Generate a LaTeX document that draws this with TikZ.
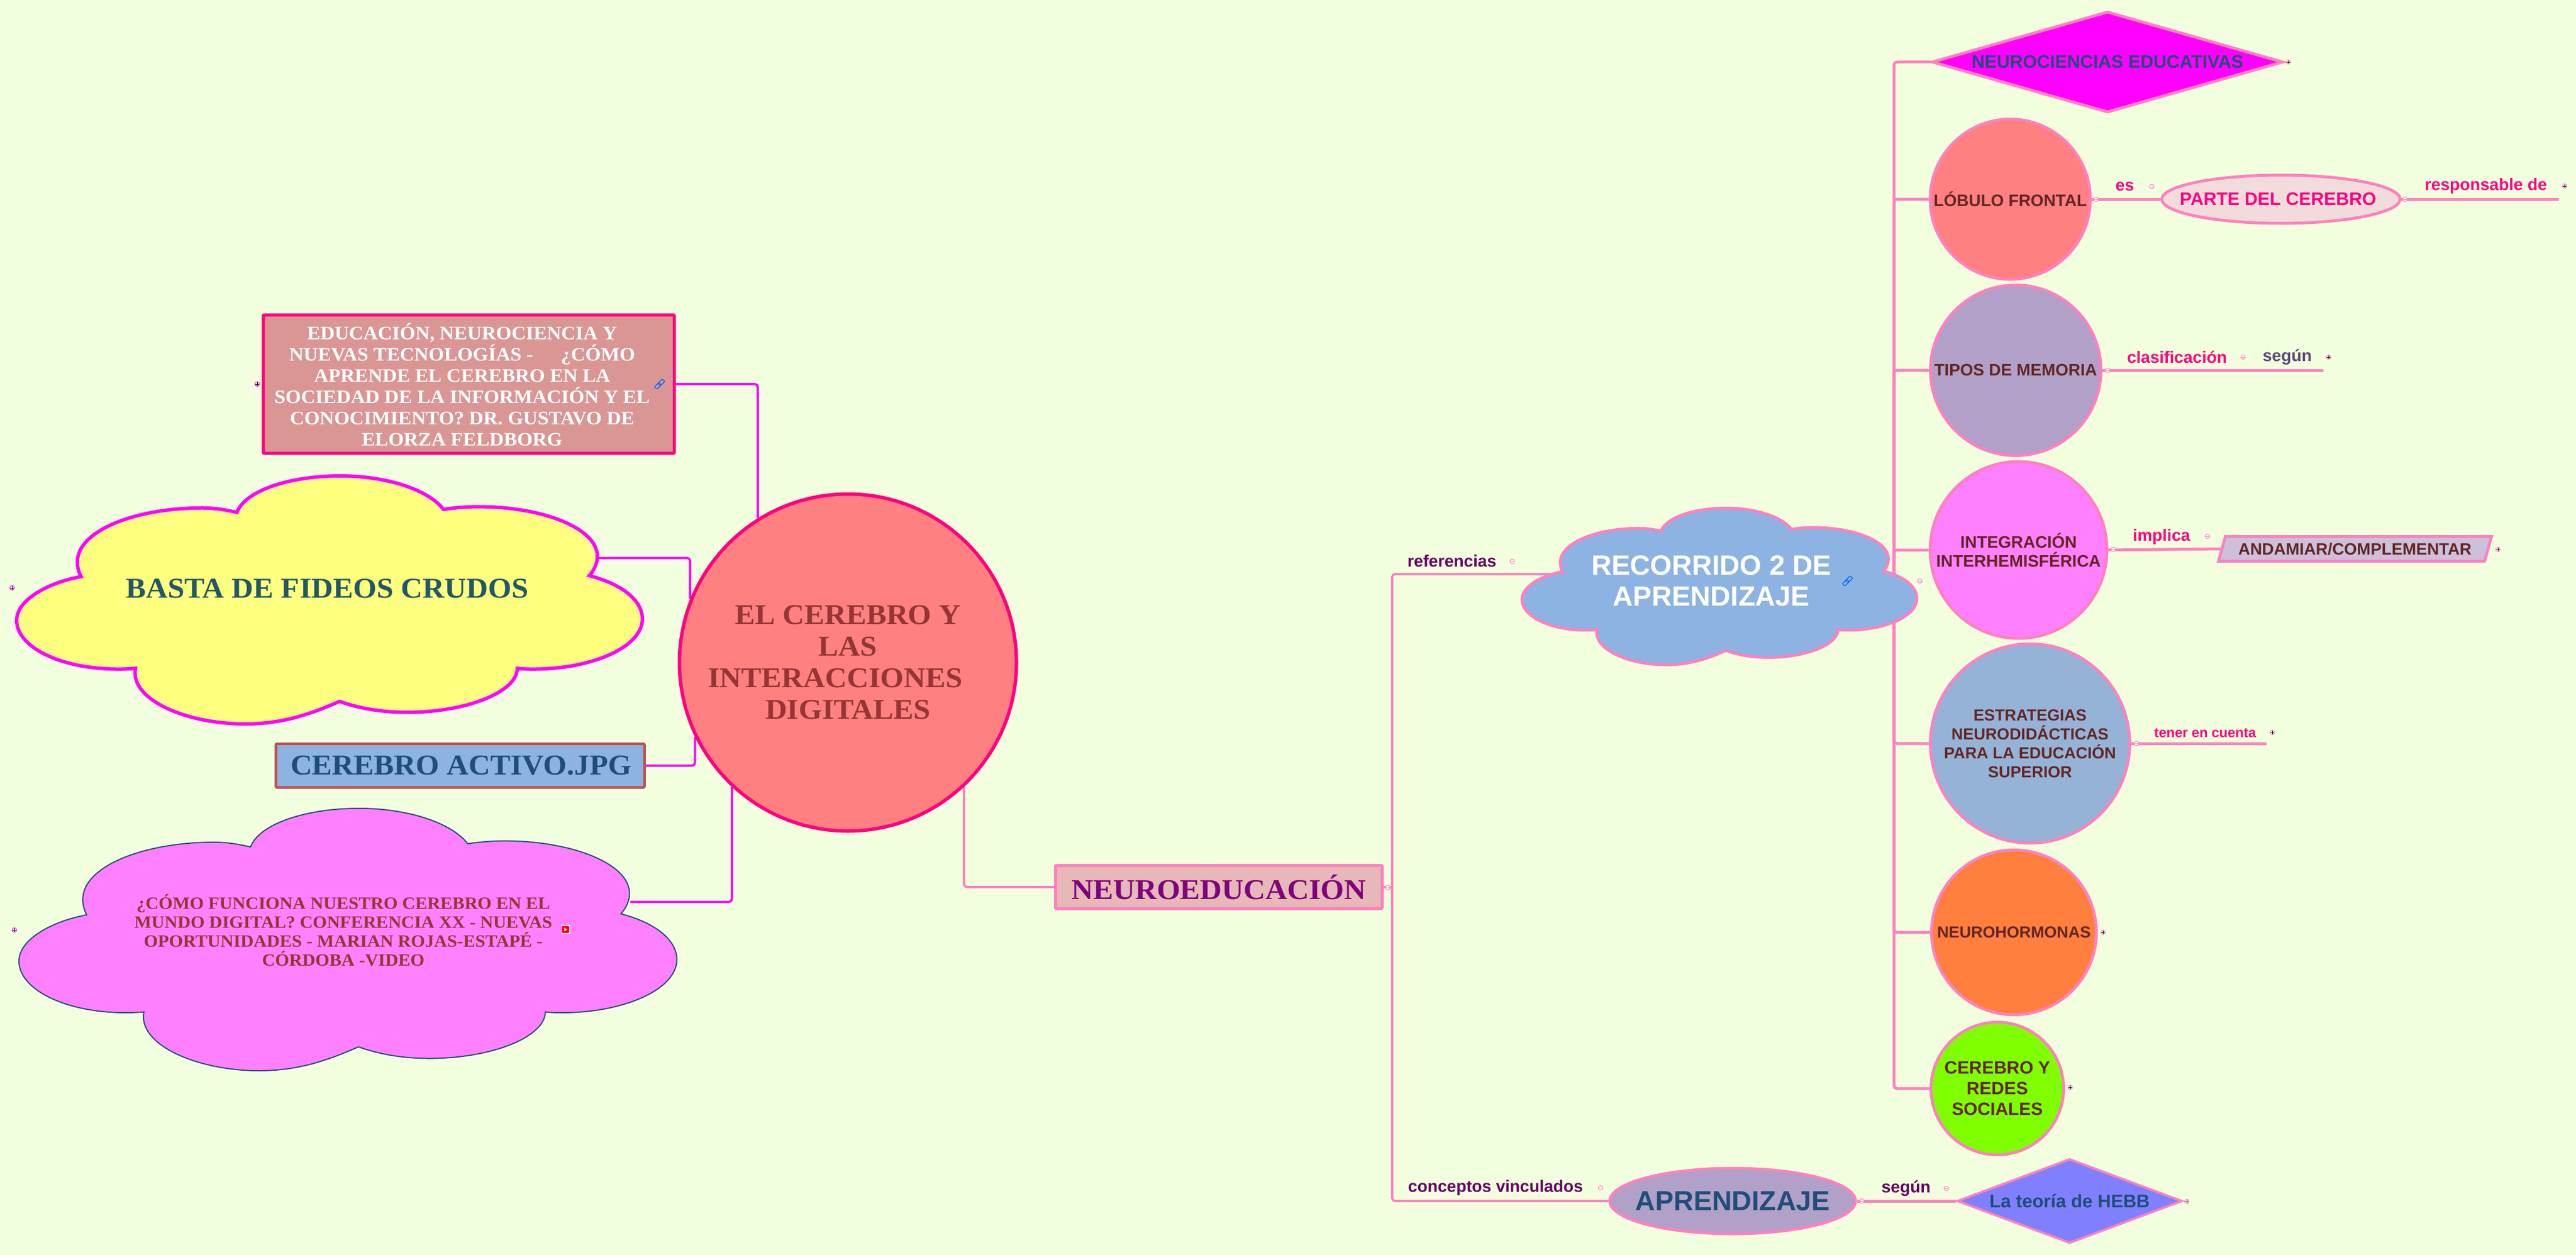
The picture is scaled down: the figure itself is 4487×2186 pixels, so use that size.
\documentclass[tikz,border=0pt]{standalone}
\usepackage{fontspec}
\setmainfont{Liberation Serif}[FakeStretch=1.05]
\setsansfont{Liberation Sans}
\usetikzlibrary{shapes.geometric,backgrounds}
\definecolor{map_bg}{HTML}{F2FFDE}
\definecolor{edge_pink}{HTML}{FF80C0}
\definecolor{edge_magenta}{HTML}{FF00FF}
\definecolor{deep_pink}{HTML}{FF0080}
\definecolor{core_red}{HTML}{FF8080}
\definecolor{core_text}{HTML}{943634}
\definecolor{rose_fill}{HTML}{D99694}
\definecolor{blush_fill}{HTML}{E6B8B7}
\definecolor{pale_fill}{HTML}{F2DCDB}
\definecolor{sky_fill}{HTML}{8DB3E2}
\definecolor{steel_fill}{HTML}{95B3D7}
\definecolor{lilac_fill}{HTML}{B1A0C7}
\definecolor{thistle_fill}{HTML}{CCC0DA}
\definecolor{lemon_fill}{HTML}{FFFF80}
\definecolor{orchid_fill}{HTML}{FF80FF}
\definecolor{orange_fill}{HTML}{FF7F3F}
\definecolor{lime_fill}{HTML}{80FF00}
\definecolor{periwinkle_fill}{HTML}{8080FF}
\definecolor{brick_line}{HTML}{C0504D}
\definecolor{navy_text}{HTML}{1F4E79}
\definecolor{teal_text}{HTML}{215868}
\definecolor{maroon_text}{HTML}{632523}
\definecolor{plum_text}{HTML}{660066}
\definecolor{purple_text}{HTML}{800080}
\definecolor{slate_text}{HTML}{5F497A}
\newcommand{\fpx}[2]{\fontsize{#1}{#2}\selectfont}
% the seven lobes, in a unit box
\newcommand{\cloudshape}[5]{
	\draw[#5, x=#3pt, y=-#4pt, shift={(#1pt,-#2pt)}]
		(.352,.147) .. controls (.365,.06) and (.435,0) .. (.517,0)
		.. controls (.595,0) and (.66,.06) .. (.682,.135)
		.. controls (.70,.128) and (.72,.124) .. (.738,.124)
		.. controls (.84,.124) and (.928,.21) .. (.928,.324)
		.. controls (.928,.352) and (.923,.38) .. (.915,.402)
		.. controls (.973,.44) and (1,.51) .. (1,.576)
		.. controls (1,.69) and (.92,.779) .. (.825,.779)
		.. controls (.815,.779) and (.807,.778) .. (.800,.776)
		.. controls (.80,.87) and (.72,.953) .. (.624,.953)
		.. controls (.58,.953) and (.545,.935) .. (.516,.909)
		.. controls (.47,.96) and (.425,1) .. (.365,1)
		.. controls (.27,1) and (.18,.90) .. (.190,.776)
		.. controls (.18,.778) and (.172,.779) .. (.163,.779)
		.. controls (.07,.779) and (0,.69) .. (0,.582)
		.. controls (0,.50) and (.05,.43) .. (.103,.406)
		.. controls (.099,.387) and (.097,.367) .. (.097,.347)
		.. controls (.097,.22) and (.19,.129) .. (.297,.129)
		.. controls (.316,.129) and (.335,.137) .. (.352,.147) -- cycle;
}
\tikzset{
	serif_text/.style 2 args = {inner sep=0pt, align=center, font=\rmfamily\bfseries\fpx{#1}{#2}},
	ball/.style = {shape=circle, draw=edge_pink, line width=5pt, inner sep=0pt, align=center, text=maroon_text, font=\sffamily\bfseries\fpx{29}{33}},
	oval/.style = {shape=ellipse, draw=edge_pink, line width=5pt, inner sep=0pt},
	gem/.style = {shape=diamond, draw=edge_pink, line width=5pt, inner sep=0pt, text=navy_text},
	tag/.style = {inner sep=0pt, font=\sffamily\bfseries\fpx{29}{31}},
	toggle_plus/.style = {shape=circle, draw=edge_pink, fill=white, line width=1pt, minimum size=8pt, inner sep=0pt,
		path picture={\draw[black, line width=.5pt] ([xshift=1pt]path picture bounding box.west) -- ([xshift=-1pt]path picture bounding box.east);
			\draw[black, line width=.5pt] ([yshift=-1pt]path picture bounding box.north) -- ([yshift=1pt]path picture bounding box.south);}},
	toggle_minus/.style = {shape=circle, draw=edge_pink, fill=white, line width=1pt, minimum size=8pt, inner sep=0pt,
		path picture={\draw[edge_pink, line width=.8pt] (path picture bounding box.west) -- (path picture bounding box.east);}},
	chain/.style = {shape=rectangle, draw=blue!60!cyan, line width=1.4pt, rounded corners=2pt, minimum width=11pt, minimum height=6pt, inner sep=0pt, rotate=45}
}
\begin{document}
\begin{tikzpicture}[x=1pt, y=-1pt,
	edge_style/.style={draw=edge_pink, line width=5pt, rounded corners=5pt},
	trunk_style/.style={draw=edge_pink, line width=4pt, rounded corners=5pt},
	left_style/.style={draw=edge_magenta, line width=4pt, rounded corners=5pt}
	]
	\begin{pgfonlayer}{background}
		\path[use as bounding box, fill=map_bg] (0,0) rectangle (4487,2186);
	\end{pgfonlayer}

	% the left side
	\node[shape=circle, draw=deep_pink, fill=core_red, line width=6pt, minimum size=587pt, serif_text={50}{55}, text=core_text] (cerebro) at (1477,1154) {EL CEREBRO Y\\LAS\\INTERACCIONES\rule{44pt}{0pt}\\DIGITALES};
	\node[shape=rectangle, draw=deep_pink, fill=rose_fill, rounded corners=2pt, line width=5.5pt, minimum width=716pt, minimum height=241pt] (educacion) at (816.5,669) {};
	\node[serif_text={33}{37}, text=white] (educacion_text) at (805,670) {EDUCACIÓN, NEUROCIENCIA Y\\NUEVAS TECNOLOGÍAS - \hspace{40pt}¿CÓMO\\APRENDE EL CEREBRO EN LA\\SOCIEDAD DE LA INFORMACIÓN Y EL\\CONOCIMIENTO? DR. GUSTAVO DE\\ELORZA FELDBORG};
	\node[shape=rectangle, draw=brick_line, fill=sky_fill, rounded corners=2pt, line width=4.5pt, minimum width=642pt, minimum height=76pt, serif_text={50}{55}, text=navy_text] (activo) at (801.5,1333.5) {\raisebox{-3pt}{\hspace*{3pt}CEREBRO ACTIVO.JPG}};
	\cloudshape{29}{829}{1090}{432}{draw=edge_magenta, fill=lemon_fill, line width=6pt}
	\node[serif_text={50}{55}, text=teal_text] (fideos) at (570,1025) {BASTA DE FIDEOS CRUDOS};
	\coordinate (fideos_out) at (1043,972);
	\cloudshape{33}{1408}{1146}{457}{draw=navy_text, fill=orchid_fill, line width=2pt}
	\node[serif_text={30}{33}, text=core_text] (funciona) at (598,1620) {¿CÓMO FUNCIONA NUESTRO CEREBRO EN EL\\MUNDO DIGITAL? CONFERENCIA XX - NUEVAS\\OPORTUNIDADES - MARIAN ROJAS-ESTAPÉ -\\CÓRDOBA -VIDEO};
	\coordinate (funciona_out) at (1098,1571);

	% the middle
	\node[shape=rectangle, draw=edge_pink, fill=blush_fill, rounded corners=2pt, line width=5.5pt, minimum width=569pt, minimum height=75pt, serif_text={50}{55}, text=purple_text] (neuroedu) at (2123,1545) {NEUROEDUCACIÓN};
	\coordinate (tronco) at (2425,1546);
	\cloudshape{2651}{885}{688}{273}{draw=edge_pink, fill=sky_fill, line width=5pt}
	\node[inner sep=0pt, align=center, text=white, font=\sffamily\bfseries\fpx{48.5}{54}] (recorrido) at (2981,1012) {RECORRIDO 2 DE\\APRENDIZAJE};
	\coordinate (recorrido_in) at (2750,1000);
	\coordinate (eje) at (3299,1012);
	\node[tag, text=plum_text] (referencias) at (2529,977) {referencias};
	\node[tag, text=plum_text] (conceptos) at (2605,2069) {conceptos vinculados};
	\node[oval, fill=lilac_fill, minimum width=428pt, minimum height=114pt, text=navy_text, font=\sffamily\bfseries\fpx{48}{52}] (aprendizaje) at (3018,2092) {\makebox[0pt]{\raisebox{-2pt}{APRENDIZAJE}}};
	\node[tag, text=plum_text] (segun_hebb) at (3320,2070) {según};
	\node[gem, fill=periwinkle_fill, line width=4pt, minimum width=392pt, minimum height=147pt, aspect=2.6, font=\sffamily\bfseries\fpx{32}{34}] (hebb) at (3605,2092) {\makebox[0pt]{\raisebox{-2pt}{La teoría de HEBB}}};

	% the right side, all the nodes on the bar
	\node[gem, fill=edge_magenta, minimum width=612pt, minimum height=176pt, aspect=3.4, font=\sffamily\bfseries\fpx{31.5}{34}] (neurociencias) at (3671,108) {\makebox[0pt]{NEUROCIENCIAS EDUCATIVAS}};
	\node[ball, fill=core_red, minimum size=279pt] (lobulo) at (3501.5,347) {LÓBULO FRONTAL};
	\node[ball, fill=lilac_fill, minimum size=297pt] (memoria) at (3511,645) {TIPOS DE MEMORIA};
	\node[ball, fill=orchid_fill, minimum size=308pt] (integracion) at (3516,958) {INTEGRACIÓN\\INTERHEMISFÉRICA};
	\node[ball, fill=steel_fill, minimum size=347pt, font=\sffamily\bfseries\fpx{28}{33}] (estrategias) at (3536,1295) {ESTRATEGIAS\\NEURODIDÁCTICAS\\PARA LA EDUCACIÓN\\SUPERIOR};
	\node[ball, fill=orange_fill, minimum size=287pt, font=\sffamily\bfseries\fpx{28}{33}] (hormonas) at (3508,1624) {NEUROHORMONAS};
	\node[ball, fill=lime_fill, minimum size=231pt, font=\sffamily\bfseries\fpx{31}{36}] (redes) at (3479,1896) {CEREBRO Y\\REDES\\SOCIALES};

	% what hangs from them
	\node[tag, text=deep_pink] (es) at (3701,325) {es};
	\node[oval, fill=pale_fill, minimum width=415pt, minimum height=84pt, text=deep_pink, font=\sffamily\bfseries\fpx{31.5}{34}] (parte) at (3973,347) {\makebox[0pt]{\hspace*{-10pt}PARTE DEL CEREBRO}};
	\node[tag, text=deep_pink] (responsable) at (4330,324) {responsable de};
	\coordinate (responsable_end) at (4457,347);
	\node[tag, text=deep_pink] (clasificacion) at (3792,622) {clasificación};
	\node[tag, text=slate_text] (segun_memoria) at (3984,622) {según};
	\coordinate (memoria_end) at (4047,645);
	\node[tag, text=deep_pink] (implica) at (3765,935) {implica};
	\node[shape=trapezium, trapezium left angle=63, trapezium right angle=117, trapezium stretches=true, draw=edge_pink, fill=thistle_fill, line width=5pt, inner sep=0pt, minimum width=476pt, minimum height=43pt, text=maroon_text, font=\sffamily\bfseries\fpx{28.6}{32}] (andamiar) at (4102,956) {ANDAMIAR/COMPLEMENTAR};
	\node[tag, text=deep_pink, font=\sffamily\bfseries\fpx{24}{26}] (tener) at (3841,1277) {tener en cuenta};
	\coordinate (tener_end) at (3948,1295);

	% the connectors go under the shapes
	\begin{pgfonlayer}{background}
		\draw[left_style] (educacion.east) -| (cerebro.122);
		\draw[left_style] (fideos_out) -| (cerebro.158);
		\draw[left_style] (activo.east) -| (cerebro.206);
		\draw[left_style] (funciona_out) -| (cerebro.227);
		\draw[trunk_style] (cerebro.313) |- (neuroedu.west);
		\draw[trunk_style] (neuroedu.east) -- (tronco);
		\draw[trunk_style] (tronco) |- (recorrido_in);
		\draw[trunk_style] (tronco) |- (aprendizaje.west);
		\draw[edge_style] (aprendizaje.east) -- (hebb.west);
		\draw[edge_style] (eje) |- (neurociencias.west);
		\draw[edge_style] (eje) |- (lobulo.west);
		\draw[edge_style] (eje) |- (memoria.west);
		\draw[edge_style] (eje) |- (integracion.west);
		\draw[edge_style] (eje) |- (estrategias.west);
		\draw[edge_style] (eje) |- (hormonas.west);
		\draw[edge_style] (eje) |- (redes.west);
		\draw[edge_style] (lobulo.east) -- (parte.west);
		\draw[edge_style] (parte.east) -- (responsable_end);
		\draw[edge_style] (memoria.east) -- (memoria_end);
		\draw[edge_style] (integracion.east) -- (andamiar.west);
		\draw[edge_style] (estrategias.east) -- (tener_end);
	\end{pgfonlayer}

	% the small toggles
	\node[toggle_plus, draw=edge_magenta] (t_educacion) at (448,669) {};
	\node[toggle_plus, draw=edge_magenta] (t_fideos) at (21,1024) {};
	\node[toggle_plus, draw=edge_magenta] (t_funciona) at (25,1620) {};
	\node[toggle_plus] (t_neurociencias) at (3986,108) {};
	\node[toggle_plus] (t_responsable) at (4467,324) {};
	\node[toggle_plus] (t_segun) at (4056,622) {};
	\node[toggle_plus] (t_andamiar) at (4351,957) {};
	\node[toggle_plus] (t_tener) at (3958,1276) {};
	\node[toggle_plus] (t_hormonas) at (3663,1624) {};
	\node[toggle_plus] (t_redes) at (3606,1894) {};
	\node[toggle_plus] (t_hebb) at (3809,2093) {};
	\node[toggle_minus] (t_neuroedu) at (2417,1546) {};
	\node[toggle_minus] (t_referencias) at (2634,978) {};
	\node[toggle_minus] (t_conceptos) at (2788,2069) {};
	\node[toggle_minus] (t_recorrido) at (3344,1012) {};
	\node[toggle_minus] (t_lobulo) at (3651,347) {};
	\node[toggle_minus] (t_es) at (3748,325) {};
	\node[toggle_minus] (t_parte) at (4189,347) {};
	\node[toggle_minus] (t_memoria) at (3671,645) {};
	\node[toggle_minus] (t_clasificacion) at (3907,622) {};
	\node[toggle_minus] (t_integracion) at (3681,957) {};
	\node[toggle_minus] (t_implica) at (3845,934) {};
	\node[toggle_minus] (t_estrategias) at (3721,1295) {};
	\node[toggle_minus] (t_aprendizaje) at (3243,2092) {};
	\node[toggle_minus] (t_segun_hebb) at (3390,2070) {};

	% the link and video marks
	\node[chain] (link_a1) at (1146,672) {};
	\node[chain] (link_a2) at (1152,666) {};
	\node[chain] (link_b1) at (3215,1015) {};
	\node[chain] (link_b2) at (3221,1009) {};
	\node[shape=rectangle, fill=white, minimum width=15pt, minimum height=16pt, inner sep=0pt] (video_back) at (985,1619) {};
	\node[shape=rectangle, fill=red, rounded corners=2pt, minimum width=13pt, minimum height=12pt, inner sep=0pt] (video) at (985,1619) {};
	\fill[white] (983,1616) -- (988,1619) -- (983,1622) -- cycle;
\end{tikzpicture}
\end{document}
